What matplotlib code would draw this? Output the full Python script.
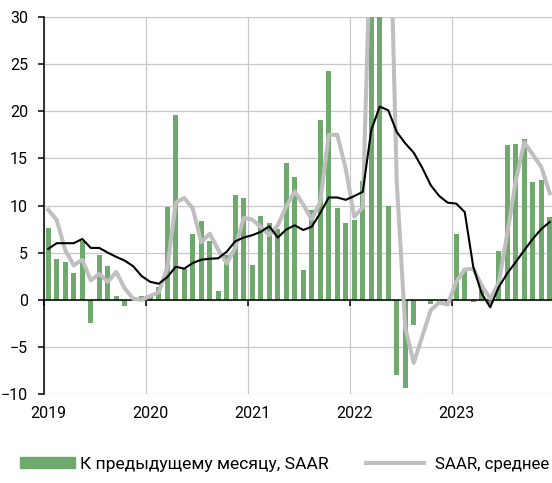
import numpy as np
import matplotlib
matplotlib.use('Agg')
import matplotlib.pyplot as plt
from matplotlib.patches import Patch
from matplotlib.lines import Line2D

plt.rcParams['font.family'] = ['Roboto', 'DejaVu Sans']

# месяцы 2019-01 .. 2023-12
years = ['2019', '2020', '2021', '2022', '2023']

# к предыдущему месяцу, SAAR (столбцы)
monthly = [7.6, 4.3, 4.0, 2.8, 6.2, -2.5, 4.8, 3.6, 0.45, -0.7, 0.2, 0.4,
           0.5, 1.4, 9.8, 19.6, 3.3, 7.0, 8.4, 6.2, 0.9, 4.7, 11.1, 10.8,
           3.65, 8.85, 8.1, 7.55, 14.5, 13.0, 3.2, 9.5, 19.05, 24.25, 9.7, 8.15,
           8.5, 12.6, 101.0, 35.0, 9.9, -8.0, -9.35, -2.7, 0.0, -0.4, -0.3, -0.4,
           6.95, 3.3, -0.25, 1.0, -0.45, 5.2, 16.4, 16.5, 17.1, 12.5, 12.7, 8.8]

# SAAR, среднее за 3 месяца (серая линия)
avg3 = [9.55, 8.45, 5.25, 3.65, 4.25, 2.05, 2.75, 1.9, 2.95, 1.2, 0.1, 0.0,
        0.4, 0.8, 3.4, 10.3, 10.8, 9.7, 6.1, 7.0, 5.3, 3.85, 5.5, 8.7,
        8.5, 7.75, 6.85, 7.9, 9.9, 11.5, 10.1, 8.5, 10.4, 17.5, 17.5, 13.9,
        8.8, 9.8, 41.0, 49.5, 48.5, 12.5, -3.0, -6.7, -3.9, -1.1, -0.3, -0.5,
        1.9, 3.2, 3.3, 1.5, 0.1, 1.8, 7.0, 12.6, 16.7, 15.4, 14.1, 11.3]

# к соответствующему месяцу прошлого года (черная линия)
yoy = [5.4, 6.0, 6.0, 6.0, 6.45, 5.5, 5.5, 5.0, 4.55, 4.15, 3.55, 2.5,
       1.9, 1.7, 2.4, 3.5, 3.3, 3.9, 4.25, 4.35, 4.4, 5.1, 6.2, 6.6,
       6.85, 7.2, 7.8, 6.6, 7.45, 7.9, 7.4, 7.75, 9.2, 10.85, 10.85, 10.6,
       11.0, 11.45, 18.0, 20.5, 20.1, 17.8, 16.6, 15.6, 14.0, 12.15, 11.0, 10.3,
       10.2, 9.3, 3.5, 0.65, -0.8, 1.35, 2.8, 4.0, 5.25, 6.45, 7.5, 8.25]

x = np.arange(len(monthly))
green = '#6FA96D'
grey = '#BFBFBF'

fig = plt.figure(figsize=(5.52, 4.83), dpi=100)
ax = fig.add_axes([44 / 552, 1 - 394 / 483, 510 / 552, 377 / 483])

ax.bar(x, monthly, width=0.63, color=green, zorder=2)
ax.plot(x, avg3, color=grey, lw=2.9, zorder=3, solid_joinstyle='round')
ax.plot(x, yoy, color='black', lw=1.5, zorder=4)

ax.set_xlim(-0.5, len(x) - 0.5)
ax.set_ylim(-10, 30)
ax.set_yticks(np.arange(-10, 31, 5))

# границы лет: сетка и засечки на нулевой линии
ax.set_xticks(np.arange(-0.5, len(x), 12))
ax.set_xticklabels([])
ax.spines['bottom'].set_position(('data', 0))
ax.spines['bottom'].set_linewidth(1.1)
ax.spines['left'].set_linewidth(1.1)
ax.spines['top'].set_visible(False)
ax.spines['right'].set_visible(False)
ax.tick_params(axis='x', direction='out', length=4, width=1.1)
ax.tick_params(axis='y', direction='out', length=4, width=1.1, pad=7.5, labelsize=11.5)
ax.grid(True, color='#C8C8C8', lw=0.9, zorder=0)
ax.set_axisbelow(True)

sec = ax.secondary_xaxis('bottom')
sec.set_xticks(np.arange(0, len(x), 12))
sec.set_xticklabels(years)
sec.tick_params(length=0, pad=8.5, labelsize=11.5)
sec.spines['bottom'].set_visible(False)

leg1 = fig.legend(handles=[Patch(color=green, label='К предыдущему месяцу, SAAR')],
                  loc='center left', bbox_to_anchor=(20 / 552, 1 - 464 / 483),
                  frameon=False, fontsize=12.6, borderpad=0, borderaxespad=0,
                  handlelength=3.15, handleheight=0.57, handletextpad=0.3)
leg2 = fig.legend(handles=[Line2D([], [], color=grey, lw=2.9, label='SAAR, среднее')],
                  loc='center left', bbox_to_anchor=(366 / 552, 1 - 464 / 483),
                  frameon=False, fontsize=12.2, borderpad=0, borderaxespad=0,
                  handlelength=3.4, handletextpad=0.65)

fig.savefig('out.png', dpi=100)
